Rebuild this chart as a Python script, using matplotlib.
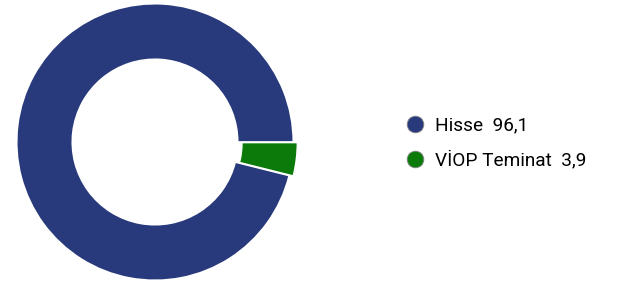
import matplotlib
matplotlib.use("Agg")
import matplotlib.pyplot as plt
from matplotlib.lines import Line2D

categories = ["Hisse", "VİOP Teminat"]
values = [96.1, 3.9]
value_labels = ["96,1", "3,9"]
colors = ["#283a7b", "#0b7a0b"]

W, H = 643, 284
fig = plt.figure(figsize=(W/100, H/100), dpi=100)
cx, cy, R = 155, 142, 139
ax = fig.add_axes([(cx-R)/W, (H-cy-R)/H, 2*R/W, 2*R/H])
ax.pie(values, colors=colors, startangle=0, counterclock=True,
       explode=[0, 0.03], radius=0.995,
       wedgeprops=dict(width=0.40, edgecolor="white", linewidth=1.2))
ax.set_xlim(-1, 1); ax.set_ylim(-1, 1)
ax.set_aspect("equal")
ax.axis("off")

handles = [Line2D([], [], marker="o", linestyle="", markersize=12,
                  markerfacecolor=c, markeredgecolor="#888888", markeredgewidth=0.6)
           for c in colors]
labels = [f"{c}  {v}" for c, v in zip(categories, value_labels)]
fig.legend(handles, labels, loc="center left", bbox_to_anchor=(386/W, 1-143/H),
           frameon=False, handletextpad=0.45, labelspacing=0.85,
           handlelength=1.2, prop={"family": "Roboto", "size": 13.7})
fig.savefig("out.png", dpi=100)
